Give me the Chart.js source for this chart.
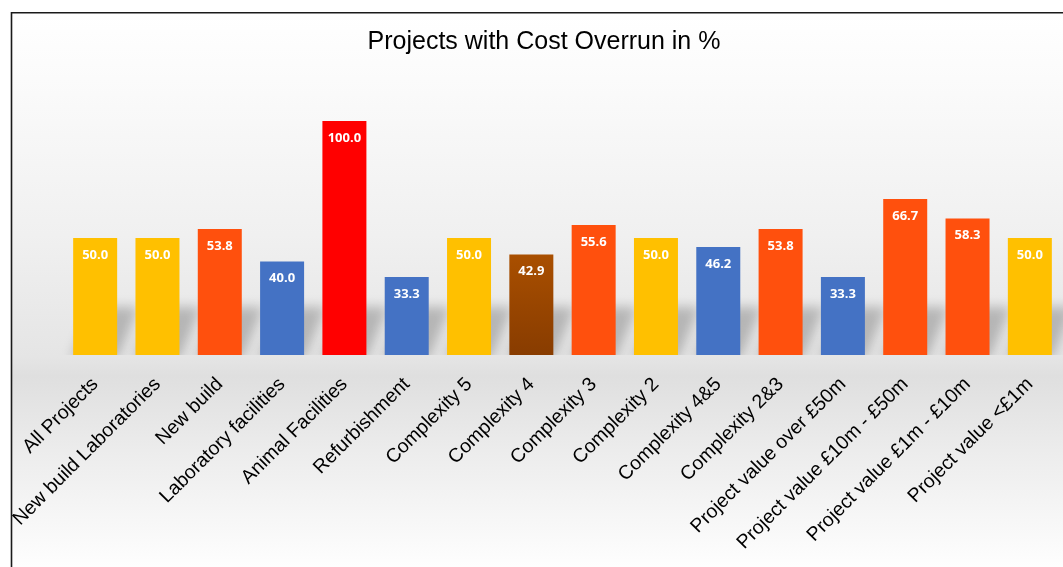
<!DOCTYPE html>
<html>
<head>
<meta charset="utf-8">
<title>Projects with Cost Overrun in %</title>
<script src="https://cdn.jsdelivr.net/npm/chart.js@4/dist/chart.umd.min.js"></script>
<style>
  html, body { margin: 0; padding: 0; background: #fff; overflow: hidden; }
  #wrap { position: absolute; left: 0; top: 0; }
</style>
</head>
<body>
<div id="wrap"><canvas id="overrunChart" width="1088" height="567"></canvas></div>
<script>
const categories = [
  "All Projects", "New build Laboratories", "New build", "Laboratory facilities",
  "Animal Facilities", "Refurbishment", "Complexity 5", "Complexity 4",
  "Complexity 3", "Complexity 2", "Complexity 4&5", "Complexity 2&3",
  "Project value over £50m", "Project value £10m - £50m",
  "Project value £1m - £10m", "Project value <£1m"
];
const overrunPct = [50.0, 50.0, 53.8, 40.0, 100.0, 33.3, 50.0, 42.9, 55.6, 50.0, 46.2, 53.8, 33.3, 66.7, 58.3, 50.0];

const YELLOW = "#FFC000", ORANGE = "#FF500D", BLUE = "#4472C4", RED = "#FF0000", BROWN = "#9A4600";
const barColors = [YELLOW, YELLOW, ORANGE, BLUE, RED, BLUE, YELLOW, BROWN, ORANGE, YELLOW, BLUE, ORANGE, BLUE, ORANGE, ORANGE, YELLOW];
// bars filled with a vertical shade instead of a flat colour
const shadedBars = { 7: ["#A94F00", "#883C00"] };

const FONT = "'Liberation Sans', Arial, sans-serif";

// frame background: light grey band around the baseline, white above and below
const backdrop = {
  id: "backdrop",
  beforeDraw(chart) {
    const { ctx, width, height } = chart;
    ctx.save();
    const g = ctx.createLinearGradient(0, 13, 0, height);
    g.addColorStop(0, "#ffffff");
    g.addColorStop(0.12, "#fbfbfb");
    g.addColorStop(0.40, "#f0f0f0");
    g.addColorStop(0.62, "#e5e5e5");
    g.addColorStop(0.655, "#dfdfdf");
    g.addColorStop(0.80, "#ededed");
    g.addColorStop(1, "#fefefe");
    ctx.fillStyle = g;
    ctx.fillRect(12, 13, width - 12, height - 13);
    ctx.strokeStyle = "#1a1a1a";
    ctx.lineWidth = 1.6;
    ctx.beginPath();
    ctx.moveTo(11.5, height);
    ctx.lineTo(11.5, 12.8);
    ctx.lineTo(width, 12.8);
    ctx.stroke();
    ctx.restore();
  }
};

// soft perspective shadow cast up and to the right of each bar foot
const barShadows = {
  id: "barShadows",
  beforeDatasetsDraw(chart) {
    const { ctx, chartArea } = chart;
    const meta = chart.getDatasetMeta(0);
    ctx.save();
    ctx.beginPath();
    ctx.rect(chartArea.left - 20, chartArea.top, chartArea.width + 40, chartArea.height);
    ctx.clip();
    ctx.filter = "blur(6px)";
    ctx.fillStyle = "rgba(0,0,0,0.22)";
    meta.data.forEach(bar => {
      const x0 = bar.x - bar.width / 2, x1 = bar.x + bar.width / 2;
      const b = bar.base;
      ctx.beginPath();
      ctx.moveTo(x0 - 2, b + 4);
      ctx.lineTo(x1, b + 4);
      ctx.lineTo(x1 + 22, b - 48);
      ctx.lineTo(x0 + 20, b - 48);
      ctx.closePath();
      ctx.fill();
    });
    ctx.restore();
  }
};

// value printed in white just inside the top of each bar
const valueLabels = {
  id: "valueLabels",
  afterDatasetsDraw(chart) {
    const { ctx } = chart;
    const ds = chart.data.datasets[0];
    const meta = chart.getDatasetMeta(0);
    ctx.save();
    ctx.font = "bold 13px 'Open Sans', 'DejaVu Sans', sans-serif";
    ctx.fillStyle = "#ffffff";
    ctx.textAlign = "center";
    ctx.textBaseline = "middle";
    meta.data.forEach((bar, i) => {
      ctx.fillText(ds.data[i].toFixed(1), bar.x, bar.y + 17);
    });
    ctx.restore();
  }
};

function barFill(context) {
  const i = context.dataIndex;
  const shade = shadedBars[i];
  const chart = context.chart;
  if (!shade || !chart.chartArea) return barColors[i];
  const y = chart.scales.y;
  const g = chart.ctx.createLinearGradient(0, y.getPixelForValue(overrunPct[i]), 0, y.getPixelForValue(0));
  g.addColorStop(0, shade[0]);
  g.addColorStop(1, shade[1]);
  return g;
}

new Chart(document.getElementById("overrunChart"), {
  type: "bar",
  data: {
    labels: categories,
    datasets: [{
      label: "Projects with Cost Overrun in %",
      data: overrunPct,
      backgroundColor: barFill,
      borderWidth: 0,
      categoryPercentage: 1,
      barPercentage: 0.706
    }]
  },
  options: {
    responsive: false,
    animation: false,
    devicePixelRatio: 1,
    layout: { padding: 0 },
    plugins: {
      legend: { display: false },
      tooltip: { enabled: false },
      title: {
        display: true,
        text: "Projects with Cost Overrun in %",
        color: "#000",
        font: { family: FONT, size: 25, weight: "normal" },
        padding: { top: 27, bottom: 64 }
      }
    },
    scales: {
      x: {
        grid: { display: false, drawTicks: false },
        border: { display: false },
        ticks: {
          color: "#000",
          font: { family: FONT, size: 19.5 },
          minRotation: 45,
          maxRotation: 45,
          autoSkip: false,
          padding: 18
        },
        afterFit: scale => { scale.height = 212; }
      },
      y: {
        min: 0,
        max: 100,
        grid: { display: false },
        border: { display: false },
        ticks: { display: false },
        afterFit: scale => { scale.width = 64; }
      },
      yRight: {
        type: "linear",
        position: "right",
        grid: { display: false },
        border: { display: false },
        ticks: { display: false },
        afterFit: scale => { scale.width = 27; }
      }
    }
  },
  plugins: [backdrop, barShadows, valueLabels]
});
</script>
</body>
</html>
